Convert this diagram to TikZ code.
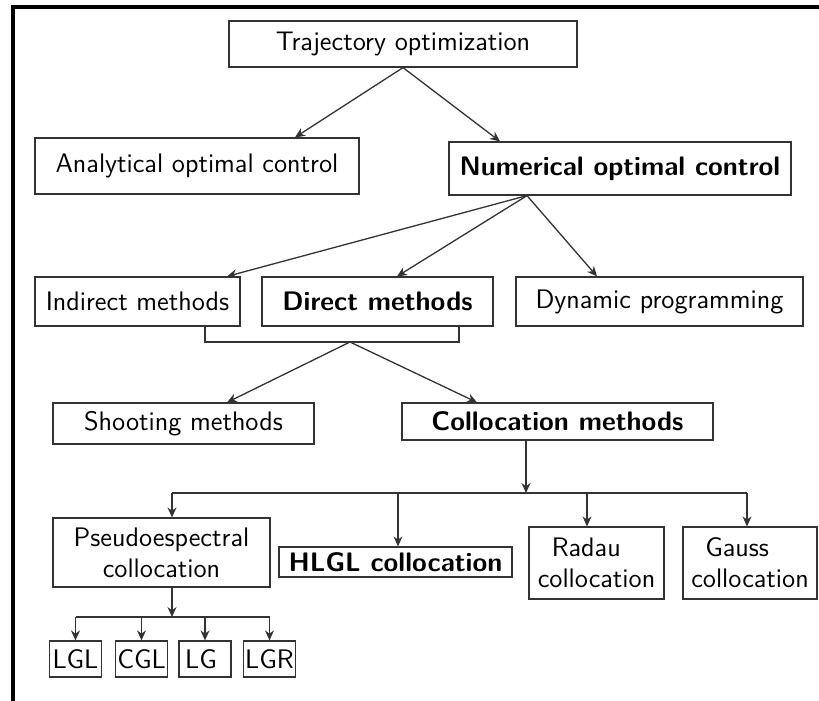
\documentclass[tikz,border=0pt]{standalone}
\usepackage{tikz}
\usetikzlibrary{arrows.meta,calc}
\definecolor{ink}{HTML}{333333}

\begin{document}
\begin{tikzpicture}[x=1pt,y=-1pt,font=\sffamily\fontsize{13.4}{15.5}\selectfont,
  box/.style={draw=ink,line width=0.6pt,inner sep=1pt,align=center},
  arr/.style={draw=ink,line width=0.65pt,-{Stealth[length=5pt,width=4.5pt]}},
  link/.style={draw=ink,line width=0.65pt}]
  \useasboundingbox (0,0) rectangle (409.5,350.5);
  % frame
  \draw[line width=2pt] (6.5,350.5) -- (6.5,3.5) -- (409.5,3.5);

  % top levels
  \node[box,minimum width=174pt,minimum height=23pt] (traj) at (201.5,22) {Trajectory optimization};
  \node[box,minimum width=162pt,minimum height=28pt] (anal) at (98.5,83) {Analytical optimal control};
  \node[box,minimum width=171pt,minimum height=26.5pt] (num) at (310,84.25) {\bfseries Numerical optimal control};
  \node[box,minimum width=102.5pt,minimum height=24.5pt] (indir) at (68.75,150.75) {Indirect methods};
  \node[box,minimum width=115.5pt,minimum height=24.5pt] (dir) at (188.75,150.75) {\bfseries Direct methods};
  \node[box,minimum width=143.5pt,minimum height=24.5pt] (dyn) at (329.75,150.75) {Dynamic programming};
  \node[box,minimum width=130.5pt,minimum height=20.5pt] (shoot) at (91.75,211.75) {Shooting methods};
  \node[box,minimum width=155.5pt,minimum height=18.5pt] (coll) at (278.75,210.75) {\bfseries Collocation methods};

  % collocation families
  \node[box,minimum width=108.5pt,minimum height=34.5pt] (pseudo) at (80.75,276.25) {Pseudoespectral\\collocation};
  \node[box,minimum width=116.5pt,minimum height=15pt] (hlgl) at (197.75,281) {\bfseries HLGL collocation};
  \node[box,align=left,minimum width=67.5pt,minimum height=36pt] (radau) at (298.25,281.5) {\hspace*{7pt}Radau\\collocation};
  \node[box,align=left,minimum width=67pt,minimum height=36pt] (gauss) at (375,281.5) {\hspace*{7pt}Gauss\\collocation};

  % pseudospectral variants
  \foreach \n/\x/\lbl in {lgl/37.75/LGL,cgl/70.75/CGL,lg/102.5/{LG\hspace*{4pt}},lgr/134.75/LGR}
    \node[box,minimum width=26pt,minimum height=18pt] (\n) at (\x,329.5) {\lbl};

  \coordinate (brk) at (175,171);
  \coordinate (bus) at (263,246.5);
  \coordinate (sub) at (86,308.5);

  % connectors
  \draw[arr] (traj.south) -- ([xshift=49pt]anal.north);
  \draw[arr] (traj.south) -- ([xshift=-60pt]num.north);
  \draw[arr] ([xshift=-46.5pt]num.south) -- ([xshift=44.75pt]indir.north);
  \draw[arr] ([xshift=-46.5pt]num.south) -- ([xshift=9.75pt]dir.north);
  \draw[arr] ([xshift=-46.5pt]num.south) -- ([xshift=-31.25pt]dyn.north);
  \draw[link] ([xshift=33.75pt]indir.south) |- (brk) -| ([xshift=40.75pt]dir.south);
  \draw[arr] (brk) -- ([xshift=21.75pt]shoot.north);
  \draw[arr] (brk) -- ([xshift=-40.25pt]coll.north);
  \draw[arr] ([xshift=-15.75pt]coll.south) -- (bus);
  \draw[link] ([xshift=5.25pt]pseudo.north |- bus) -- ([xshift=-1.5pt]gauss.north |- bus);
  \draw[arr] ([xshift=5.25pt]pseudo.north |- bus) -- ([xshift=5.25pt]pseudo.north);
  \draw[arr] ([xshift=1.25pt]hlgl.north |- bus) -- ([xshift=1.25pt]hlgl.north);
  \draw[arr] ([xshift=-4.75pt]radau.north |- bus) -- ([xshift=-4.75pt]radau.north);
  \draw[arr] ([xshift=-1.5pt]gauss.north |- bus) -- ([xshift=-1.5pt]gauss.north);
  \draw[arr] ([xshift=5.25pt]pseudo.south) -- (sub);
  \draw[link] (lgl.north |- sub) -- (lgr.north |- sub);
  \foreach \n in {lgl,cgl,lg,lgr}
    \draw[arr] (\n.north |- sub) -- (\n.north);
\end{tikzpicture}
\end{document}
